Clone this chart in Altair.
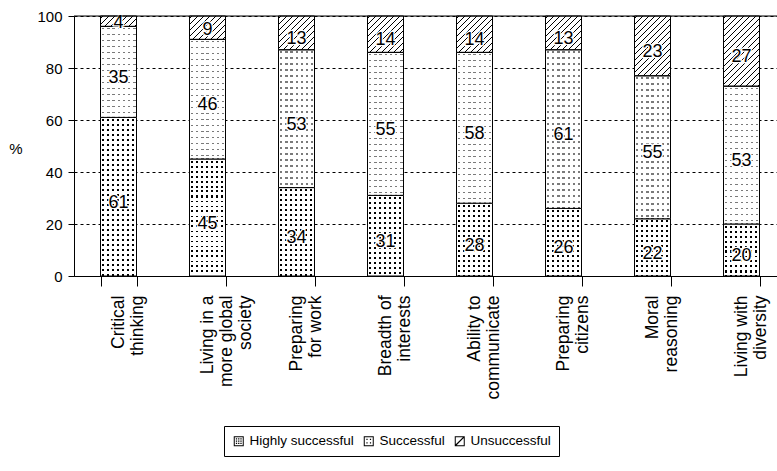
import altair as alt

# ---- data -------------------------------------------------------------
categories = [
    "Critical|thinking",
    "Living in a|more global|society",
    "Preparing|for work",
    "Breadth of|interests",
    "Ability to|communicate",
    "Preparing|citizens",
    "Moral|reasoning",
    "Living with|diversity",
]
series = ["Highly successful", "Successful", "Unsuccessful"]
highly_successful = [61, 45, 34, 31, 28, 26, 22, 20]
successful = [35, 46, 53, 55, 58, 61, 55, 53]
unsuccessful = [4, 9, 13, 14, 14, 13, 23, 27]

# ---- geometry ---------------------------------------------------------
PLOT_W = 703          # visible part of the plot area
PLOT_H = 260
STEP = 89             # band step (the last band runs past the right edge)
BAR_W = 36
PX = PLOT_H / 100.0   # pixels per percentage point
FONT = "Liberation Sans"
FS_TICK = 15
FS_CAT = 17.5
FS_VAL = 18
FS_LEG = 13.5

WHITE = "#ffffff"
CLEAR = "rgba(255,255,255,0)"


def bands(length, period, thick, first, on, off):
    """Hard-edged stripes along a run of `length` pixels, as gradient stops."""
    stops = [{"offset": 0.0, "color": off}]
    s = first
    while s < length - 0.3:
        e = min(s + thick, length)
        a, b = s / length, e / length
        stops += [
            {"offset": a, "color": off},
            {"offset": a, "color": on},
            {"offset": b, "color": on},
            {"offset": b, "color": off},
        ]
        s += period
    stops.append({"offset": 1.0, "color": off})
    return stops


def rows(h, period, thick, color):
    return {"gradient": "linear", "x1": 0, "y1": 0, "x2": 0, "y2": 1,
            "stops": bands(h, period, thick, 1.5, color, WHITE)}


def columns(period, thick, first):
    # white mask with transparent gaps: laid over rows it leaves dots
    return {"gradient": "linear", "x1": 0, "y1": 0, "x2": 1, "y2": 0,
            "stops": bands(BAR_W, period, thick, first, CLEAR, WHITE)}


def hatch(h):
    # 45-degree "/" lines; t = (X + Y) / (w + h) across the bar's box
    L = BAR_W + h
    a = BAR_W * L / (BAR_W ** 2 + h ** 2)
    return {"gradient": "linear", "x1": 0, "y1": 0, "x2": a, "y2": a * h / BAR_W,
            "stops": bands(L, 6, 1.4, 2.0, "#000000", WHITE)}


def fills(name, value):
    h = value * PX
    if name == "Highly successful":
        return rows(h, 5, 2, "#000000"), columns(5, 2, 1.5)
    if name == "Successful":
        return rows(h, 6, 1.3, "#7a7a7a"), columns(5.2, 2.4, 1.4)
    return hatch(h), CLEAR


records = []
for i, cat in enumerate(categories):
    for k, (name, vals) in enumerate(zip(series, [highly_successful, successful, unsuccessful])):
        v = vals[i]
        g_under, g_over = fills(name, v)
        records.append({"category": cat, "series": name, "order": k, "value": v,
                        "gUnder": g_under, "gOver": g_over})
data = alt.Data(values=records)

# ---- shared encodings -------------------------------------------------
x_axis = alt.Axis(
    title=None, labelAngle=-90, labelAlign="right", labelBaseline="middle",
    labelExpr="split(datum.label, '|')", labelLineHeight=19,
    labelFont=FONT, labelFontSize=FS_CAT, labelColor="black", labelPadding=9,
    labelLimit=300, tickBand="extent", tickSize=10, tickColor="black",
    domainColor="black", grid=False,
)
x_scale = alt.Scale(range=[0, STEP * len(categories)],
                    paddingInner=1 - BAR_W / STEP, paddingOuter=(1 - BAR_W / STEP) / 2)
X = alt.X("category:N", sort=categories, scale=x_scale, axis=x_axis)

y_axis = alt.Axis(
    title="%", titleAngle=0, titleFont=FONT, titleFontSize=FS_TICK, titleFontWeight="normal",
    titleColor="black", titleX=-52, titleY=132, titleAlign="right", titleBaseline="middle",
    values=[0, 20, 40, 60, 80, 100], labelFont=FONT, labelFontSize=FS_TICK, labelColor="black",
    labelPadding=6, tickSize=6, tickColor="black", domainColor="black",
    grid=True, gridColor="#000000", gridDash=[3, 3], gridWidth=1,
)
y_scale = alt.Scale(domain=[0, 100], nice=False)


def Y(field):
    return alt.Y(field, scale=y_scale, axis=y_axis)


# labels sit a little below the middle of each segment, except in thin ones
base = alt.Chart(data).transform_stack(
    stack="value", groupby=["category"], as_=["y0", "y1"],
    sort=[alt.SortField("order", order="ascending")],
).transform_calculate(
    mid="(datum.y0 + datum.y1) / 2 - clamp((datum.value - 9) / 2, 0, 1.6)"
)

under = base.mark_bar(strokeWidth=0).encode(
    x=X, y=Y("y0:Q"), y2="y1:Q", fill=alt.Fill("gUnder:N", scale=None)
)
over = base.mark_bar(stroke="black", strokeWidth=1).encode(
    x=X, y=Y("y0:Q"), y2="y1:Q", fill=alt.Fill("gOver:N", scale=None)
)

halo = base.mark_text(font=FONT, fontSize=FS_VAL, dy=2, color="white",
                      stroke="white", strokeWidth=2.5).encode(
    x=X, y=Y("mid:Q"), text="value:Q"
)
labels = base.mark_text(font=FONT, fontSize=FS_VAL, dy=2, color="black").encode(
    x=X, y=Y("mid:Q"), text="value:Q"
)

# frame line along the top of the plot
top = alt.Chart(alt.Data(values=[{}])).mark_rule(color="black", strokeWidth=1).encode(
    y=alt.Y(datum=100, scale=y_scale, axis=y_axis)
)

# legend swatches: outlined squares carrying each fill pattern
FRAME = "M-1,-1H1V1H-1Z M-0.8,-0.8V0.8H0.8V-0.8Z"


def dots(coords, s):
    return " ".join(
        f"M{cx - s:.2f},{cy - s:.2f}h{2 * s:.2f}v{2 * s:.2f}h{-2 * s:.2f}Z"
        for cx in coords for cy in coords
    )


shape_paths = [
    FRAME + " " + dots([-0.45, 0.0, 0.45], 0.13),
    FRAME + " " + dots([-0.35, 0.35], 0.12),
    FRAME + " M-0.8,0.62L0.62,-0.8L0.8,-0.8L0.8,-0.62L-0.62,0.8L-0.8,0.8Z",
]

legend_layer = base.transform_filter("datum.value < 0").mark_point(
    filled=True, color="black", opacity=1, size=100
).encode(
    x=X, y=Y("value:Q"),
    shape=alt.Shape(
        "series:N",
        scale=alt.Scale(domain=series, range=shape_paths),
        legend=alt.Legend(
            title=None, orient="none", legendX=150, legendY=410, direction="horizontal",
            strokeColor="black", padding=8, symbolSize=100, symbolStrokeWidth=0,
            symbolFillColor="black", labelFont=FONT, labelFontSize=FS_LEG, labelColor="black",
            labelOffset=4, columnPadding=8, labelLimit=300,
        ),
    ),
)

chart = alt.layer(under, over, halo, labels, top, legend_layer).properties(
    width=PLOT_W, height=PLOT_H,
    autosize=alt.AutoSizeParams(type="none"),
    padding={"left": 74, "top": 16, "right": 0, "bottom": 195},
).configure_view(stroke=None).configure(background="white")

chart.save("out.html", embed_options={"renderer": "svg", "actions": False})
